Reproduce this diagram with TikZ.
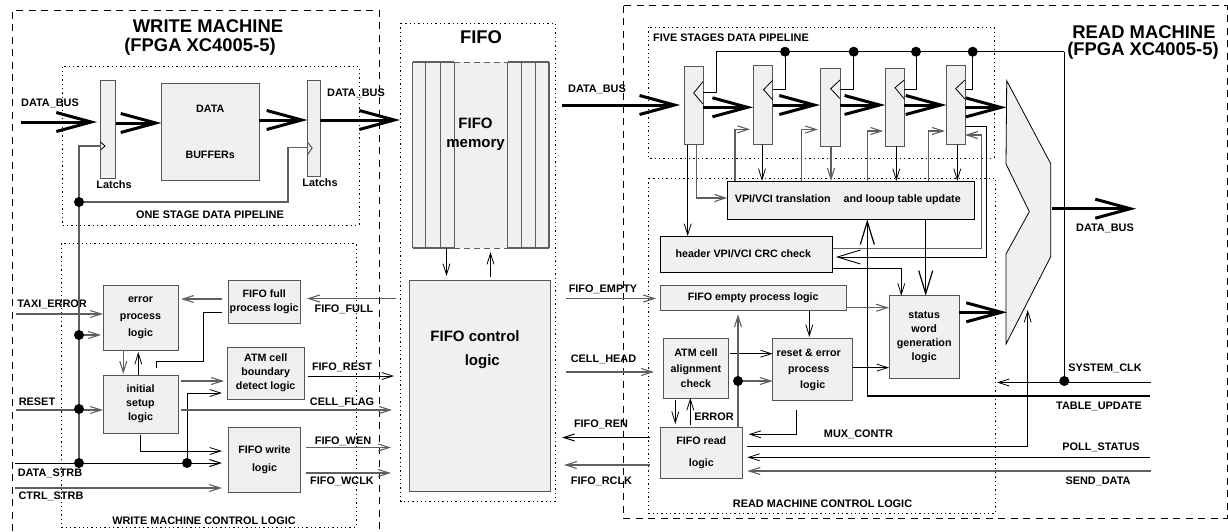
\documentclass[tikz,border=0pt]{standalone}
\usepackage{fontspec}
\setmainfont{Liberation Sans}
\usetikzlibrary{arrows.meta,calc}
\definecolor{boxfill}{RGB}{240,240,240}
\definecolor{boxline}{RGB}{85,85,85}
\definecolor{wiregray}{RGB}{95,95,95}
\begin{document}
\begin{tikzpicture}[x=1pt,y=-1pt,font=\fontsize{10.9}{13}\selectfont\bfseries,
 box/.style={draw=boxline,fill=boxfill,line width=.9pt,align=center,inner sep=0pt,outer sep=0pt,font=\fontsize{10.7}{13}\selectfont\bfseries},
 dims/.style 2 args={minimum width=#1pt,minimum height=#2pt},
 sig/.style={inner sep=0pt,outer sep=0pt,align=center},
 title/.style={sig,font=\fontsize{18.4}{21}\selectfont\bfseries},
 midtitle/.style={sig,font=\fontsize{15}{17}\selectfont\bfseries},
 outerline/.style={line width=.8pt,dash pattern=on 7pt off 5.5pt},
 innerline/.style={line width=.8pt,dash pattern=on 1.3pt off 3pt},
 dot/.style={circle,fill=black,inner sep=0pt,minimum size=10pt},
 wire/.style={line width=.8pt,-{Straight Barb[length=11pt,width=7pt]}},
 gwire/.style={wire,draw=wiregray,line width=1.1pt},
 line/.style={line width=.8pt},
 gline/.style={line,draw=wiregray,line width=1.1pt},
 mid/.style={line width=1pt,-{Straight Barb[length=23pt,width=14pt]}},
 bus/.style={line width=3pt,-{Straight Barb[length=35pt,width=19pt]}}]
\useasboundingbox (0,0) rectangle (1228,531);
\draw[outerline] (12,531) -- (12,10) -- (379,10) -- (379,531);
\draw[outerline] (623,5.5) rectangle (1227,518);
\draw[innerline] (400.5,23) rectangle (555,501.5);
\draw[innerline] (62,66.5) rectangle (359,225);
\draw[innerline] (61,243.5) rectangle (356,527);
\draw[innerline] (648,27) rectangle (994,158);
\draw[innerline] (648,178) rectangle (995.7,513);
\node[title] (wrtitle) at (208,26) {WRITE MACHINE};
\node[title] (wrchip) at (200,47) {(FPGA XC4005-5)};
\node[title] (fifotitle) at (481,37) {FIFO};
\node[title] (rdtitle) at (1144,32) {READ MACHINE};
\node[title] (rdchip) at (1143,51) {(FPGA XC4005-5)};
\node[box] (lat1) at (108,129) [dims={15}{98}] {};
\node[box] (lat2) at (313.7,128.2) [dims={12.5}{96.5}] {};
\node[box] (buf) at (210.2,131.7) [dims={97.5}{96.5}] {DATA\\[33pt]BUFFERs};
\node[box] (err) at (140.5,317.8) [dims={75}{65.7}] {error\\[4pt]process\\[4pt]logic};
\node[box] (full) at (264.2,301.7) [dims={71.5}{42.5}] {FIFO full\\[1pt]process logic};
\node[box] (bound) at (265.7,373.2) [dims={77.5}{51.5}] {ATM cell\\[1pt]boundary\\[1pt]detect logic};
\node[box] (init) at (140.5,404) [dims={75}{58}] {initial\\[1pt]setup\\[1pt]logic};
\node[box] (wrlog) at (264.5,459.7) [dims={72}{65.5}] {FIFO write\\[5pt]logic};
\node[box,fill=boxfill,draw=none] (mem) at (480.9,155) [dims={136.3}{186}] {};
\foreach \x in {412.7,425.3,440.7,454.3,507.5,521.7,535.3,549}
 \draw[gline] (\x,62) -- (\x,248);
\draw[gline] (mem.north west) -- (454.3,62) (507.5,62) -- (mem.north east);
\draw[gline] (mem.south west) -- (454.3,248) (507.5,248) -- (mem.south east);
\draw[line,draw=wiregray,dash pattern=on 6pt off 4pt] (454.3,62) -- (507.5,62) (454.3,248) -- (507.5,248);
\node[midtitle] (memtxt) at (475.5,134.5) {FIFO\\[2.5pt]memory};
\node[box] (ctl) at (479.8,385.8) [dims={141.7}{211.7}] {};
\node[midtitle] (ctltxt) at (475,349.7) {FIFO control\\[7pt]\hspace*{14.6pt}logic};
\node[box] (r1) at (693.6,105.6) [dims={18.7}{77.8}] {};
\node[box] (r2) at (763,105) [dims={19.7}{79}] {};
\node[box] (r3) at (830,107.2) [dims={20}{77.5}] {};
\node[box] (r4) at (894.8,107.2) [dims={19}{77.5}] {};
\node[box] (r5) at (955.7,105) [dims={18.5}{79}] {};
\node[box,draw=black] (vpi) at (850.8,200.2) [dims={247}{38.5}] {\hspace*{-6pt}VPI/VCI translation\hspace{13pt}and looup table update};
\node[box,draw=black] (hdr) at (746.3,254) [dims={172.7}{36}] {\hspace*{-6pt}header VPI/VCI CRC check};
\node[box] (empty) at (753.2,297.9) [dims={186.3}{25.7}] {FIFO empty process logic};
\node[box] (align) at (695.9,368.2) [dims={65.7}{59.5}] {ATM cell\\[2.5pt]alignment\\[2pt]check};
\node[box] (rst) at (812.7,369.6) [dims={80}{62.2}] {\hspace*{-8pt}reset \& error\\[3pt]\hspace*{-8pt}process\\[3pt]logic};
\node[box] (rdlog) at (701.3,452.8) [dims={82.7}{51.7}] {FIFO read\\[9pt]logic};
\node[box] (stat) at (924.2,337) [dims={70.3}{82.6}] {status\\[1pt]word\\[1pt]generation\\[1pt]logic};
\draw[line,fill=boxfill] (1006.7,80.7) -- (1050.7,163.7) -- (1050.7,256.7) -- (1006,344) -- (1006,254) -- (1029.3,211.7) -- (1006,164) -- cycle;
\foreach \n/\x/\y/\t in {lbusin/50/103/DATA\_BUS,llat1/114/185/Latchs,llat2/320/183/Latchs,lbusout/356/93/DATA\_BUS,
 lone/210/215/ONE STAGE DATA PIPELINE,ltaxi/52/304/TAXI\_ERROR,lreset/37/402/RESET,lstrb/50/473/DATA\_STRB,lctrl/51/496/CTRL\_STRB,
 lffull/344/309/FIFO\_FULL,lfrest/342/367/FIFO\_REST,lcflag/342/402/CELL\_FLAG,lfwen/343/441/FIFO\_WEN,lfwclk/342/481/FIFO\_WCLK,
 lwctl/204/521/WRITE MACHINE CONTROL LOGIC,lbusmid/597/89/DATA\_BUS,lfive/731/37.5/FIVE STAGES DATA PIPELINE,lbusrd/1105/228/DATA\_BUS,
 lfempty/603/289/FIFO\_EMPTY,lchead/603.5/359/CELL\_HEAD,lfren/601/424.5/FIFO\_REN,lfrclk/601.5/481/FIFO\_RCLK,lerror/714/417/ERROR,
 lmux/858.5/434/MUX\_CONTR,lsys/1105/368/SYSTEM\_CLK,ltable/1099/406/TABLE\_UPDATE,lpoll/1101/447/POLL\_STATUS,lsend/1098/481/SEND\_DATA,
 lrctl/822.5/504/READ MACHINE CONTROL LOGIC}
 \node[sig] (\n) at (\x,\y) {\t};
\foreach \n/\x/\y in {dw1/79/202,dw2/79/335,dw3/79/409,dw4/79/463,dw5/187/463,dr1/785/51.7,dr2/853.7/51.7,dr3/916/51.7,dr4/972.7/51.7,dr5/738/381,dr6/1064.3/381,
 cbusin/21/122,cbusmid/562/105,cmuxin/1006.5/107.4,cmuxst/1007/312.3,cbusrd/1136/208.7,ctaxi/16/314,creset/16/410,cstrb/15/463,cctrl/15/488,
 cfull/396/298.5,crest/394/376,cflag/392/410,cwen/391/447.5,cwclk/391/473,cfemp/565.7/298.5,chead/565.7/372,cren/562/437.5,crclk/564/465,
 cmuxup/1027.7/310,csysin/1151/382.5,csysl/997/382.5,ctable/1150/396,cpoll/1150/457.3,csend/1151/471,ctop/1064.3/51.7}
 \coordinate (\n) at (\x,\y);
\draw[bus,shorten >=3.5pt] (cbusin) -- (lat1.west |- cbusin);
\draw[bus] (lat1.east |- 0,123) -- (buf.west |- 0,123);
\draw[bus] (buf.east |- 0,120) -- (lat2.west |- 0,120);
\draw[bus,shorten >=12.7pt] (lat2.east |- 0,120) -- (mem.west |- 0,120);
\draw[bus,shorten >=4pt] (cbusmid) -- (r1.west |- cbusmid);
\draw[bus] (r1.east |- 0,107.3) -- (r2.west |- 0,107.3);
\draw[bus] (r2.east |- 0,105) -- (r3.west |- 0,105);
\draw[bus] (r3.east |- 0,105) -- (r4.west |- 0,105);
\draw[bus] (r4.east |- 0,105) -- (r5.west |- 0,105);
\draw[bus] (r5.east |- cmuxin) -- (cmuxin);
\draw[bus] (stat.east |- cmuxst) -- (cmuxst);
\draw[bus] (1052,208.7) -- (cbusrd);
\draw[gline] (dw4) |- (lat1.west |- 0,146);
\draw[gline] (dw1) -| (288,147.5) -- (lat2.west |- 0,147.5);
\draw[line] (lat1.west |- 0,142) -- (105,146) -- (lat1.west |- 0,150);
\draw[gline] (lat2.west |- 0,142) -- (312,148) -- (lat2.west |- 0,155);
\draw[gwire] (ctaxi) -- (err.west |- ctaxi);
\draw[gwire] (dw2) -- ($(err.west |- dw2)+(-2,0)$);
\draw[gwire] (creset) -- (init.west |- creset);
\draw[wire,line width=1pt] (cstrb) -- ($(wrlog.west |- cstrb)+(-6.5,0)$);
\draw[gwire] (cctrl) -- ($(wrlog.west |- cctrl)+(-6.5,0)$);
\draw[wire] (dw5) |- ($(bound.west |- 0,393)+(-5,0)$);
\draw[wire] (init.south |- 0,435) |- ($(wrlog.west |- 0,451)+(-6.5,0)$);
\draw[gwire] (181,381) -- ($(bound.west |- 0,381)+(-3,0)$);
\draw[gwire] (181,410) -- (cflag);
\draw[line] (156.5,368) |- (203,361.7) -- (203,312) -- ($(full.west |- 0,312)+(-6.5,0)$);
\draw[gwire] (err.south -| 123.3,0) -- (123.3,374);
\draw[wire] (init.north -| 138.3,0) -- (138.3,352);
\draw[gwire] (222,299) -- ($(err.east |- 0,299)+(3,0)$);
\draw[gwire] (cfull) -- ($(full.east |- cfull)+(7,0)$);
\draw[wire] (308,376) -- (crest);
\draw[gwire] (306,447.5) -- (cwen);
\draw[gwire] (306,473) -- (cwclk);
\draw[wire] (mem.south -| 446.5,0) -- ($(ctl.north -| 446.5,0)+(0,-4)$);
\draw[wire] ($(ctl.north -| 490.5,0)+(0,-3)$) -- (490.5,252);
\draw[line] (r1.east |- 0,92.5) -| (716.5,51.7) -- (ctop);
\draw[line] (ctop) -- (dr6);
\draw[line] (dr1) |- (r2.east |- 0,89);
\draw[line] (dr2) |- (r3.east |- 0,89);
\draw[line] (dr3) |- (r4.east |- 0,89);
\draw[line] (dr4) |- (r5.east |- 0,89.5);
\foreach \n/\ta/\tb/\tc in {r1/81.7/93/104,r2/80/89.7/100,r3/80/88.7/98.7,r4/80/87.7/99,r5/80/88.7/99}
 \draw[line] (\n.east |- 0,\ta) -- ($(\n.east |- 0,\tb)+(-9.3,0)$) -- (\n.east |- 0,\tc);
\draw[wire] (r2.south -| 762,0) -- (vpi.north -| 762,0);
\draw[gwire] (r3.south -| 831,0) -- (vpi.north -| 831,0);
\draw[wire] (r4.south -| 896.3,0) -- (vpi.north -| 896.3,0);
\draw[wire] (r5.south -| 957.3,0) -- (vpi.north -| 957.3,0);
\draw[gwire] (vpi.north -| 735,0) |- ($(r2.west |- 0,129.3)+(-3,0)$);
\draw[gwire] (vpi.north -| 801.7,0) |- ($(r3.west |- 0,129.5)+(-2,0)$);
\draw[gwire] (vpi.north -| 867.3,0) |- ($(r4.west |- 0,131)+(-2,0)$);
\draw[gwire] (vpi.north -| 928.3,0) |- ($(r5.west |- 0,131)+(-1.5,0)$);
\draw[wire] (r1.south -| 687.7,0) -- (hdr.north -| 687.7,0);
\draw[gwire] (r1.south -| 696.7,0) |- (vpi.west |- 0,198);
\draw[mid,line width=.9pt] (r5.east |- 0,126) -| (986.7,257) -- ($(hdr.east |- 0,257)+(3.3,0)$);
\draw[gwire] (hdr.east |- 0,248.3) -| (981.7,135) -- (r5.east |- 0,135);
\draw[mid,line width=1.2pt] (ctable) -| (vpi.south -| 867.3,0);
\draw[mid,line width=1.2pt] (vpi.south -| 925.7,0) -- (stat.north -| 925.7,0);
\draw[wire] (hdr.east |- 0,268) -| (stat.north -| 901.3,0);
\draw[gwire] (cfemp) -- ($(empty.west |- cfemp)+(-4,0)$);
\draw[gwire] (chead) -- ($(align.west |- chead)+(-9,0)$);
\draw[wire,line width=1pt] ($(rdlog.west |- cren)+(-10,0)$) -- (cren);
\draw[gwire] ($(rdlog.west |- crclk)+(-10,0)$) -- (crclk);
\draw[wire] ($(align.east |- 0,353.7)+(1.3,0)$) -- (rst.west |- 0,353.7);
\draw[gwire] (dr5) -- (rst.west |- dr5);
\draw[gwire] (rdlog.north -| dr5) -- ($(empty.south -| dr5)+(0,3.5)$);
\draw[wire] (empty.south -| 809.3,0) -- ($(rst.north -| 809.3,0)+(0,-1.5)$);
\draw[gwire] (empty.east |- 0,307.7) -- (stat.west |- 0,307.7);
\draw[wire] (rst.east |- 0,367.6) -- (stat.west |- 0,367.6);
\draw[wire] ($(align.south -| 675.3,0)+(0,2)$) -- ($(rdlog.north -| 675.3,0)+(0,-3)$);
\draw[wire] ($(rdlog.north -| 690.3,0)+(0,-2)$) -- (align.south -| 690.3,0);
\draw[wire] (796,410) |- ($(rdlog.east |- 0,434.3)+(6,0)$);
\draw[wire] ($(rdlog.east |- 0,446.7)+(4.7,0)$) -| (cmuxup);
\draw[wire] (cpoll) -- ($(rdlog.east |- cpoll)+(4.7,0)$);
\draw[gwire] (csend) -- ($(rdlog.east |- csend)+(4.7,0)$);
\draw[wire] (csysin) -- (csysl);
\draw[line] (dr6) -- (cmuxup -| dr6);
\foreach \n in {dw1,dw2,dw3,dw4,dw5,dr1,dr2,dr3,dr4,dr5,dr6}
 \node[dot] (n\n) at (\n) {};
\end{tikzpicture}
\end{document}
